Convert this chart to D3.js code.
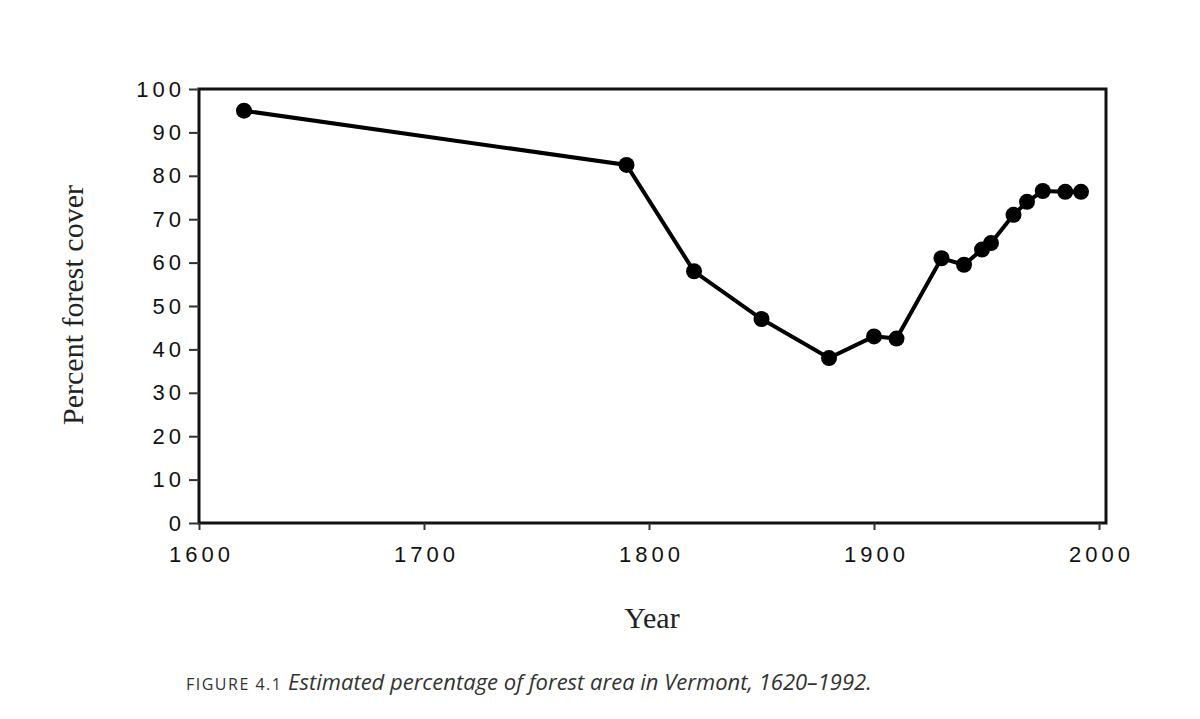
<!DOCTYPE html><html><head><meta charset="utf-8"><script src="https://cdn.jsdelivr.net/npm/d3@7"></script>
<style>body{margin:0;background:#fff}</style></head><body><svg id="c" width="1200" height="719"></svg>
<script>
const years=[1620,1790,1820,1850,1880,1900,1910,1930,1940,1948,1952,1962,1968,1975,1985,1992];
const pct=[95,82.5,58,47,38,43,42.5,61,59.5,63,64.5,71,74,76.5,76.3,76.3];
const xTicks=[1600,1700,1800,1900,2000];
const yTicks=[0,10,20,30,40,50,60,70,80,90,100];
const svg=d3.select("#c");
const L=199,R=1106,T=89,B=523;
const x=d3.scaleLinear().domain([1600,2000]).range([L,L+900]);
const y=d3.scaleLinear().domain([0,100]).range([B,T]);
svg.append("rect").attr("x",L).attr("y",T).attr("width",R-L).attr("height",B-T).attr("fill","none").attr("stroke","#111").attr("stroke-width",3);
const xa=svg.append("g").attr("transform",`translate(0,${B})`).call(d3.axisBottom(x).tickValues(xTicks).tickSize(7).tickFormat(d3.format("d")));
const ya=svg.append("g").attr("transform",`translate(${L},0)`).call(d3.axisLeft(y).tickValues(yTicks).tickSize(10));
[xa,ya].forEach(a=>{a.select(".domain").remove();a.selectAll("line").attr("stroke","#333").attr("stroke-width",2);
a.selectAll("text").attr("font-family","Liberation Sans, Arial").attr("font-size",22).attr("fill","#111").attr("letter-spacing","4px");});
xa.selectAll("text").attr("dy","1.3em").attr("dx","2px");
ya.selectAll("text").attr("x",-14);
svg.append("path").datum(years.map((d,i)=>[d,pct[i]])).attr("fill","none").attr("stroke","#000").attr("stroke-width",4)
 .attr("d",d3.line().x(d=>x(d[0])).y(d=>y(d[1])));
svg.selectAll("circle").data(years).join("circle").attr("cx",d=>x(d)).attr("cy",(d,i)=>y(pct[i])).attr("r",8).attr("fill","#000");
svg.append("text").attr("x",652).attr("y",628).attr("text-anchor","middle").attr("font-family","Liberation Serif, serif").attr("font-size",30).attr("fill","#222").text("Year");
svg.append("text").attr("transform","translate(83,305) rotate(-90)").attr("text-anchor","middle").attr("font-family","Liberation Serif, serif").attr("font-size",30).attr("fill","#222").text("Percent forest cover");
const cap=svg.append("text").attr("x",186).attr("y",690).attr("font-family","Open Sans, sans-serif").attr("fill","#333");
cap.append("tspan").attr("font-size",16).attr("letter-spacing","1.5px").text("FIGURE 4.1 ");
cap.append("tspan").attr("font-size",22).attr("font-style","italic").text(" Estimated percentage of forest area in Vermont, 1620–1992.");
</script></body></html>
